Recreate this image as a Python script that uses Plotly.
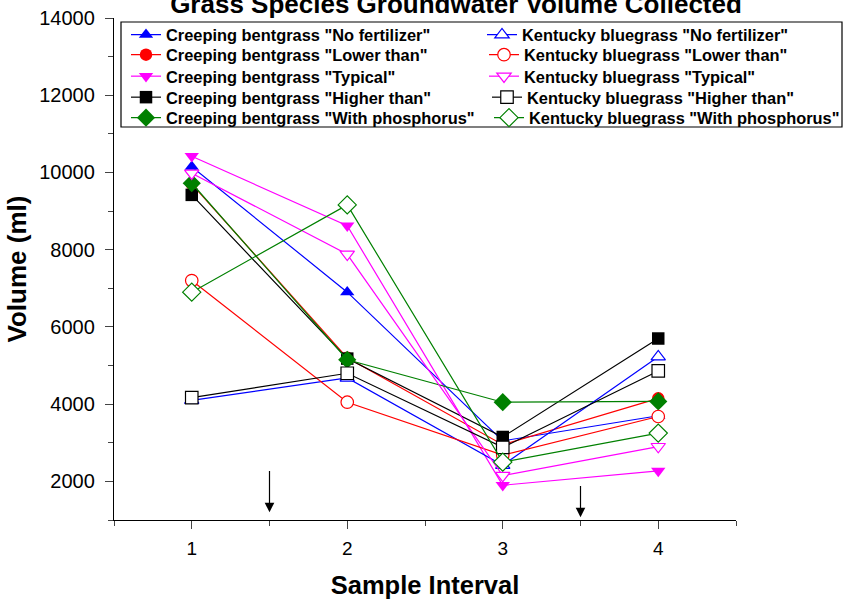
import plotly.graph_objects as go

intervals = [1, 2, 3, 4]
treatments = ['"No fertilizer"', '"Lower than"', '"Typical"', '"Higher than"', '"With phosphorus"']
colors = ["#0000FF", "#FF0000", "#FF00FF", "#000000", "#008000"]
symbols = ["triangle-up", "circle", "triangle-down", "square", "diamond"]

creeping_no_fert = [10150, 6900, 3050, 3700]
creeping_lower = [9700, 5200, 2950, 4150]
creeping_typical = [10420, 8620, 1900, 2270]
creeping_higher = [9420, 5180, 3150, 5700]
creeping_phos = [9720, 5150, 4050, 4070]

kentucky_no_fert = [4100, 4680, 2420, 5230]
kentucky_lower = [7200, 4050, 2680, 3680]
kentucky_typical = [9980, 7880, 2150, 2900]
kentucky_higher = [4170, 4800, 2880, 4860]
kentucky_phos = [6900, 9160, 2500, 3250]

y_ticks = [2000, 4000, 6000, 8000, 10000, 12000, 14000]
y_tick_labels = ["2000", "4000", "6000", "8000", "10000", "12000", "14000"]
x_ticks = [1, 2, 3, 4]
x_tick_labels = ["1", "2", "3", "4"]

arrow_x = [1.5, 3.5]
arrow_top = [2310, 1920]
arrow_tip = [1200, 1070]

creeping = [creeping_no_fert, creeping_lower, creeping_typical, creeping_higher, creeping_phos]
kentucky = [kentucky_no_fert, kentucky_lower, kentucky_typical, kentucky_higher, kentucky_phos]

FONT = "Arial, Liberation Sans, sans-serif"
W, H = 843, 603
ML, MR, MT, MB = 114, 107, 18, 83
PW, PH = W - ML - MR, H - MT - MB


def px2paper_x(px):
    return (px - ML) / PW


def px2paper_y(py):
    return 1 - (py - MT) / PH


row_centers = [35, 55, 76.5, 97.5, 118]
col_text_start = [[167, 167, 167, 167, 167], [523, 525, 525, 528, 530]]

fig = go.Figure()
legends = {}
for g, (series, fill) in enumerate([(creeping, True), (kentucky, False)]):
    prefix = "Creeping bentgrass " if fill else "Kentucky bluegrass "
    for i in range(5):
        size = 14 if symbols[i] == "diamond" else 12.5
        idx = g * 5 + i + 1
        lname = "legend" if idx == 1 else f"legend{idx}"
        if fill:
            marker = dict(symbol=symbols[i], size=size, color=colors[i], line=dict(width=0))
        else:
            marker = dict(symbol=symbols[i], size=size, color="white", line=dict(width=1.2, color=colors[i]))
        fig.add_trace(go.Scatter(
            x=intervals, y=series[i], mode="lines+markers",
            name=prefix + treatments[i],
            line=dict(color=colors[i], width=1.2),
            marker=marker, legend=lname,
        ))
        legends[lname] = dict(
            x=px2paper_x(col_text_start[g][i] - 41), y=px2paper_y(row_centers[i]),
            xanchor="left", yanchor="middle",
            font=dict(family=FONT, size=16.4, color="black", weight="bold"),
            bgcolor="rgba(0,0,0,0)", borderwidth=0,
        )

for xa, yt, yh in zip(arrow_x, arrow_top, arrow_tip):
    fig.add_annotation(x=xa, y=yh, ax=xa, ay=yt, axref="x", ayref="y", xref="x", yref="y",
                       text="", showarrow=True, arrowhead=2, arrowsize=1.6, arrowwidth=1.2,
                       arrowcolor="black", standoff=0)

fig.update_layout(
    width=W, height=H,
    margin=dict(l=ML, r=MR, t=MT, b=MB, autoexpand=False),
    paper_bgcolor="white", plot_bgcolor="white",
    font=dict(family=FONT, color="black"),
    title=dict(text="<b>Grass Species Groundwater Volume Collected</b>",
               font=dict(family=FONT, size=26, color="black"),
               x=456 / W, xanchor="center", y=1 - 4 / H, yanchor="middle", yref="container",
               automargin=False),
    showlegend=True,
    **legends,
)
fig.add_shape(type="rect", xref="paper", yref="paper",
              x0=px2paper_x(121), x1=px2paper_x(842), y0=px2paper_y(127), y1=px2paper_y(22),
              line=dict(color="black", width=1.2), fillcolor="rgba(0,0,0,0)", layer="above")

fig.update_xaxes(range=[0.5, 4.5], tickmode="array", tickvals=x_ticks, ticktext=x_tick_labels,
                 ticks="outside", ticklen=8, tickwidth=1.3, showline=True, linecolor="black", linewidth=1.3,
                 showgrid=False, zeroline=False, automargin=False, ticklabelstandoff=3,
                 minor=dict(tickvals=[0.5, 1.5, 2.5, 3.5, 4.5], ticks="outside", ticklen=5, tickwidth=1.3),
                 tickfont=dict(family=FONT, size=19),
                 title=dict(text="<b>Sample Interval</b>", font=dict(family=FONT, size=25.5), standoff=18))
fig.update_yaxes(range=[1000, 14000], tickmode="array", tickvals=y_ticks, ticktext=y_tick_labels,
                 ticks="outside", ticklen=8, tickwidth=1.3, showline=True, linecolor="black", linewidth=1.3,
                 showgrid=False, zeroline=False, automargin=False, ticklabelstandoff=6,
                 minor=dict(tickvals=[1000, 3000, 5000, 7000, 9000, 11000, 13000], ticks="outside", ticklen=5, tickwidth=1.3),
                 tickfont=dict(family=FONT, size=20),
                 title=dict(text="<b>Volume (ml)</b>", font=dict(family=FONT, size=26), standoff=5))

fig.write_html("out.html", config={"displayModeBar": False},
               post_script="document.body.style.margin='0px';")
